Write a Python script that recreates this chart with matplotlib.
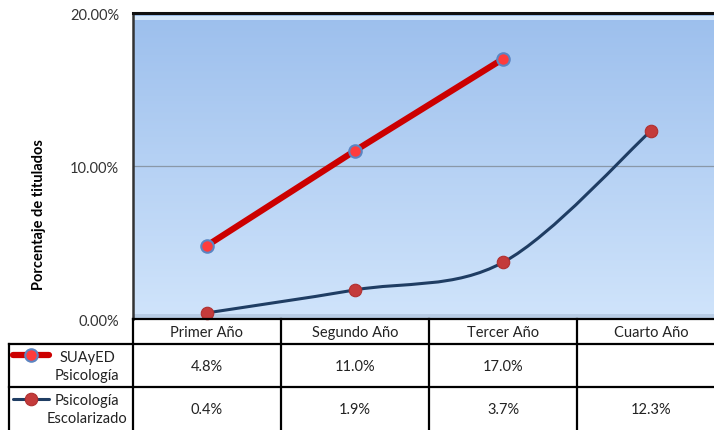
import matplotlib.pyplot as plt
import numpy as np
from matplotlib.path import Path
from matplotlib.patches import PathPatch
from matplotlib.lines import Line2D

plt.rcParams['font.family'] = ['Lato', 'DejaVu Sans']

categorias = ["Primer Año", "Segundo Año", "Tercer Año", "Cuarto Año"]
suayed = [4.8, 11.0, 17.0]
escolarizado = [0.4, 1.9, 3.7, 12.3]
series_nombres = ["SUAyED\nPsicología", "Psicología\nEscolarizado"]
yticks = [0, 10, 20]

W, H = 714, 431
fig = plt.figure(figsize=(W / 100, H / 100), dpi=100)

# ejes en pixeles: izquierda 133, arriba 14, abajo 320; se extiende fuera del borde derecho
x0, x1, ytop, ybot = 133, 725, 14, 320
ax = fig.add_axes([x0 / W, (H - ybot) / H, (x1 - x0) / W, (ybot - ytop) / H])

# fondo degradado azul (oscuro arriba, claro abajo)
grad = np.linspace(0, 1, 256)[:, None, None]
top_c = np.array([156, 191, 237]) / 255
bot_c = np.array([208, 228, 251]) / 255
img = np.repeat(top_c + (bot_c - top_c) * grad, 2, axis=1)
ax.imshow(img, extent=(-0.5, 3.5, 0, 20), origin='upper', aspect='auto', zorder=0)
ax.set_xlim(-0.5, 3.5)
ax.set_ylim(0, 20)
# brillo superior y sombra inferior
ax.axhspan(19.55, 19.8, color='#d6e8fb', lw=0, zorder=0.5)
ax.axhspan(0, 0.3, color='#a9bfd8', alpha=0.6, lw=0, zorder=0.5)

ax.axhline(10, color='#8a98a8', lw=0.9, zorder=1)

xs = np.arange(len(categorias))

# línea suavizada (Bezier tipo Excel) para escolarizado
pts = np.column_stack([xs, escolarizado])
ext = np.vstack([pts[0], pts, pts[-1]])
verts = [tuple(pts[0])]
codes = [Path.MOVETO]
for i in range(len(pts) - 1):
    p0, p1, p2, p3 = ext[i], ext[i + 1], ext[i + 2], ext[i + 3]
    verts += [tuple(p1 + (p2 - p0) / 6), tuple(p2 - (p3 - p1) / 6), tuple(p2)]
    codes += [Path.CURVE4] * 3
ax.add_patch(PathPatch(Path(verts, codes), fill=False, ec='#1f3d63', lw=2.2,
                       capstyle='round', zorder=3))

est_suayed = dict(color='#cc0000', lw=4.5, mfc='#ff3c3c', mec='#5b85c2', mew=1.5, ms=9)
est_escol = dict(color='#1f3d63', lw=2.2, mfc='#c43b3b', mec='#b03030', mew=0.8, ms=9)

ax.plot(xs, escolarizado, ls='none', marker='o', ms=9, mfc='#c43b3b',
        mec='#b03030', mew=0.8, zorder=4, clip_on=False)
ax.plot(xs[:len(suayed)], suayed, marker='o', solid_capstyle='round',
        zorder=5, clip_on=False, **est_suayed)

ax.set_yticks(yticks)
ax.set_yticklabels([f"{v:.2f}%" for v in yticks], fontsize=10.5, color='#333333')
ax.tick_params(axis='y', length=0, pad=10)
ax.set_xticks([])
for s in ['right', 'bottom']:
    ax.spines[s].set_visible(False)
ax.spines['top'].set_linewidth(2.2)
ax.spines['top'].set_color('#111111')
ax.spines['left'].set_linewidth(1.8)
ax.spines['left'].set_color('#333333')
ax.set_ylabel("Porcentaje de titulados", fontsize=10.5, fontweight='bold')
ax.yaxis.set_label_coords(-0.147, 0.343)

# tabla de datos bajo el gráfico
tab = fig.add_axes([x0 / W, 0, (x1 - x0) / W, (H - ybot) / H])
tab.set_xlim(-0.5, 3.5)
tab.set_ylim(H, ybot)
tab.axis('off')
lw = 1.6
px = 1 / 148  # ancho de una categoría en pixeles
left = -0.5 - (x0 - 9) * px
tab.plot([-0.5, 3.5], [ybot, ybot], color='black', lw=lw, clip_on=False)
for y in [345, 388]:
    tab.plot([left, 3.5], [y, y], color='black', lw=lw, clip_on=False)
for xv in [-0.5, 0.5, 1.5, 2.5]:
    tab.plot([xv, xv], [ybot, H], color='black', lw=lw, clip_on=False)
tab.plot([left, left], [345, H], color='black', lw=lw, clip_on=False)

for i, c in enumerate(categorias):
    tab.text(i, 333, c, ha='center', va='center', fontsize=10.5, color='#222222')

filas = [suayed, escolarizado]
for fila, yc in zip(filas, [367, 410]):
    for i, v in enumerate(fila):
        tab.text(i, yc, f"{v:.1f}%", ha='center', va='center', fontsize=10.5,
                 color='#222222')

# claves de la leyenda
for est, yc in zip([est_suayed, est_escol], [356, 400]):
    tab.add_line(Line2D([left + 4 * px, left + 22 * px, left + 40 * px],
                        [yc, yc, yc], marker='o', markevery=[1], clip_on=False,
                        solid_capstyle='round', **est))
for nombre, yc in zip(series_nombres, [367, 410]):
    tab.text(left + 78 * px, yc, nombre, ha='center', va='center', fontsize=10.5,
             color='#222222', linespacing=1.3)

fig.savefig("out.png", dpi=100)
